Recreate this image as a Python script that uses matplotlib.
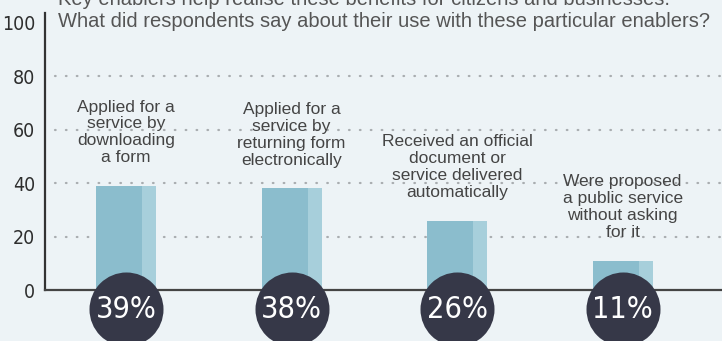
#%%############################################################################
# Bar chart of enabler usage with percentage badges under each bar.
###############################################################################
import numpy as np
import matplotlib.pyplot as plt
from matplotlib.transforms import blended_transform_factory

#%%############################################################################
# Data.
###############################################################################
categories = ['Applied for a\nservice by\ndownloading\na form',
              'Applied for a\nservice by\nreturning form\nelectronically',
              'Received an official\ndocument or\nservice delivered\nautomatically',
              'Were proposed\na public service\nwithout asking\nfor it']
values = [39, 38, 26, 11]
yTicks = [0, 20, 40, 60, 80, 100]

titleTop = 'Key enablers help realise these benefits for citizens and businesses.'
titleMain = 'What did respondents say about their use with these particular enablers?'

#%%############################################################################
# Styling.
###############################################################################
bgColor = '#edf3f6'
barDark = '#8bbdcd'
barLight = '#a7cfdb'
badgeColor = '#363848'
textColor = '#444444'
narrow = dict(family='DejaVu Sans', stretch='condensed')
plainFont = ['Liberation Sans', 'DejaVu Sans']

W, H = 722, 341
fig = plt.figure(figsize=(W / 100, H / 100), dpi=100, facecolor=bgColor)
axLeft, axBottom, axTop = 45, 51, 13
ax = fig.add_axes([axLeft / W, axBottom / H, 1 - axLeft / W, (H - axBottom - axTop) / H])
ax.set_facecolor(bgColor)

x = np.arange(len(values))
barWidth = 0.362
ax.set_xlim(-0.49, 3.60)
ax.set_ylim(0, 103.7)

#%%############################################################################
# Grid, bars and labels.
###############################################################################
for t in yTicks[1:-1]:
    ax.axhline(t, xmin=10 / (W - axLeft), xmax=1, color='#a9adb0', lw=1.6,
               linestyle=(0, (0.3, 4.6)), dash_capstyle='round', zorder=1)

ax.bar(x, values, width=barWidth, color=barLight, zorder=2)
ax.bar(x - barWidth * 0.115, values, width=barWidth * 0.77, color=barDark, zorder=2)

for xi, v, label in zip(x, values, categories):
    ax.annotate(label, (xi, v), xytext=(0, 15), textcoords='offset points',
                ha='center', va='bottom', fontsize=12.5, color=textColor,
                family=plainFont, linespacing=1.15, zorder=3)

# Percentage badges sitting across the baseline.
trans = blended_transform_factory(ax.transData, ax.transAxes)
badgeY = -0.0686
ax.scatter(x, [badgeY] * len(x), s=2840, color=badgeColor, transform=trans,
           clip_on=False, zorder=5, linewidths=0)
for xi, v in zip(x, values):
    ax.text(xi, badgeY, str(v) + '%', transform=trans, ha='center', va='center',
            color='white', fontsize=22, zorder=6, **narrow)

#%%############################################################################
# Axes.
###############################################################################
for side in ['top', 'right']:
    ax.spines[side].set_visible(False)
ax.spines['left'].set_color('#333333')
ax.spines['left'].set_linewidth(1.6)
ax.spines['bottom'].set_color('#444444')
ax.spines['bottom'].set_linewidth(1.6)
ax.spines['bottom'].set_zorder(4)

ax.set_xticks([])
ax.set_yticks(yTicks)
ax.set_yticklabels([str(t) for t in yTicks], fontsize=14, color='#2e2e2e', **narrow)
ax.tick_params(axis='y', length=0, pad=7)

fig.text(58 / W, 1 - 5 / H, titleTop, ha='left', va='baseline', fontsize=14.5,
         color='#555555', family=plainFont)
fig.text(58 / W, 1 - 27 / H, titleMain, ha='left', va='baseline', fontsize=14.5,
         color='#555555', family=plainFont)

fig.savefig('out.png', dpi=100, facecolor=bgColor)
